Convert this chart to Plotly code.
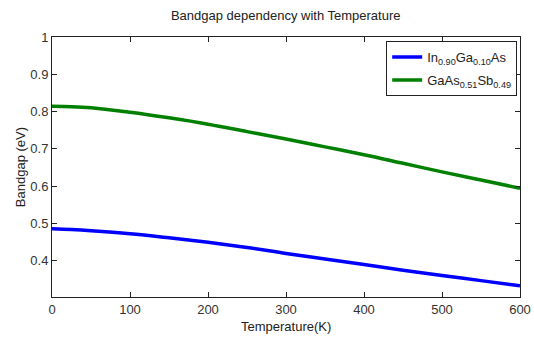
import plotly.graph_objects as go

temperature = [0, 25, 50, 100, 150, 200, 250, 300, 350, 400, 450, 500, 550, 600]
ingaas = [0.485, 0.483, 0.480, 0.472, 0.461, 0.449, 0.435, 0.419, 0.404, 0.389, 0.374, 0.360, 0.346, 0.332]
gaassb = [0.814, 0.813, 0.810, 0.798, 0.783, 0.766, 0.746, 0.726, 0.705, 0.684, 0.661, 0.638, 0.616, 0.594]
names = ["In<sub>0.90</sub>Ga<sub>0.10</sub>As", "GaAs<sub>0.51</sub>Sb<sub>0.49</sub>"]
x_ticks = [0, 100, 200, 300, 400, 500, 600]
y_ticks = [0.4, 0.5, 0.6, 0.7, 0.8, 0.9, 1]
y_labels = ["0.4", "0.5", "0.6", "0.7", "0.8", "0.9", "1"]

font = "Liberation Sans Narrow, Liberation Sans, Arial, sans-serif"

fig = go.Figure()
fig.add_trace(go.Scatter(x=temperature, y=ingaas, mode="lines", name=names[0], legendgroup="a",
                         line=dict(color="#0000ff", width=3.5, shape="spline")))
fig.add_trace(go.Scatter(x=temperature, y=gaassb, mode="lines", name=names[1], legendgroup="b",
                         line=dict(color="#008000", width=3.5, shape="spline")))

axis_common = dict(showgrid=False, zeroline=False, showline=True, linecolor="#222222",
                   linewidth=1, mirror="ticks", ticks="inside", ticklen=5, automargin=False,
                   tickcolor="#222222", tickfont=dict(family=font, size=13, color="#333333"))

fig.update_layout(
    width=534, height=340,
    margin=dict(l=52, r=14, t=37, b=43),
    paper_bgcolor="white", plot_bgcolor="white",
    title=dict(text="Bandgap dependency with Temperature", x=0.535, xanchor="center",
               yref="container", y=0.955, yanchor="middle",
               font=dict(family=font, size=13, color="#222222")),
    xaxis=dict(range=[0, 600], tickvals=x_ticks, **axis_common),
    yaxis=dict(range=[0.302, 1], tickvals=y_ticks, ticktext=y_labels, **axis_common),
    legend=dict(x=0.994, y=0.984, xanchor="right", yanchor="top", bordercolor="#222222",
                borderwidth=1, bgcolor="white", font=dict(family=font, size=13, color="#222222"),
                itemwidth=30, tracegroupgap=3),
    showlegend=True,
    annotations=[
        dict(text="Temperature(K)", xref="paper", yref="paper", x=0.5, y=-0.115,
             xanchor="center", yanchor="middle", showarrow=False,
             font=dict(family=font, size=13, color="#222222")),
        dict(text="Bandgap (eV)", xref="paper", yref="paper", x=-0.068, y=0.5,
             xanchor="center", yanchor="middle", textangle=-90, showarrow=False,
             font=dict(family=font, size=13, color="#222222")),
    ],
)

fig.write_html("out.html", config={"displayModeBar": False},
               post_script="document.body.style.margin='0';document.body.style.overflow='hidden';")
